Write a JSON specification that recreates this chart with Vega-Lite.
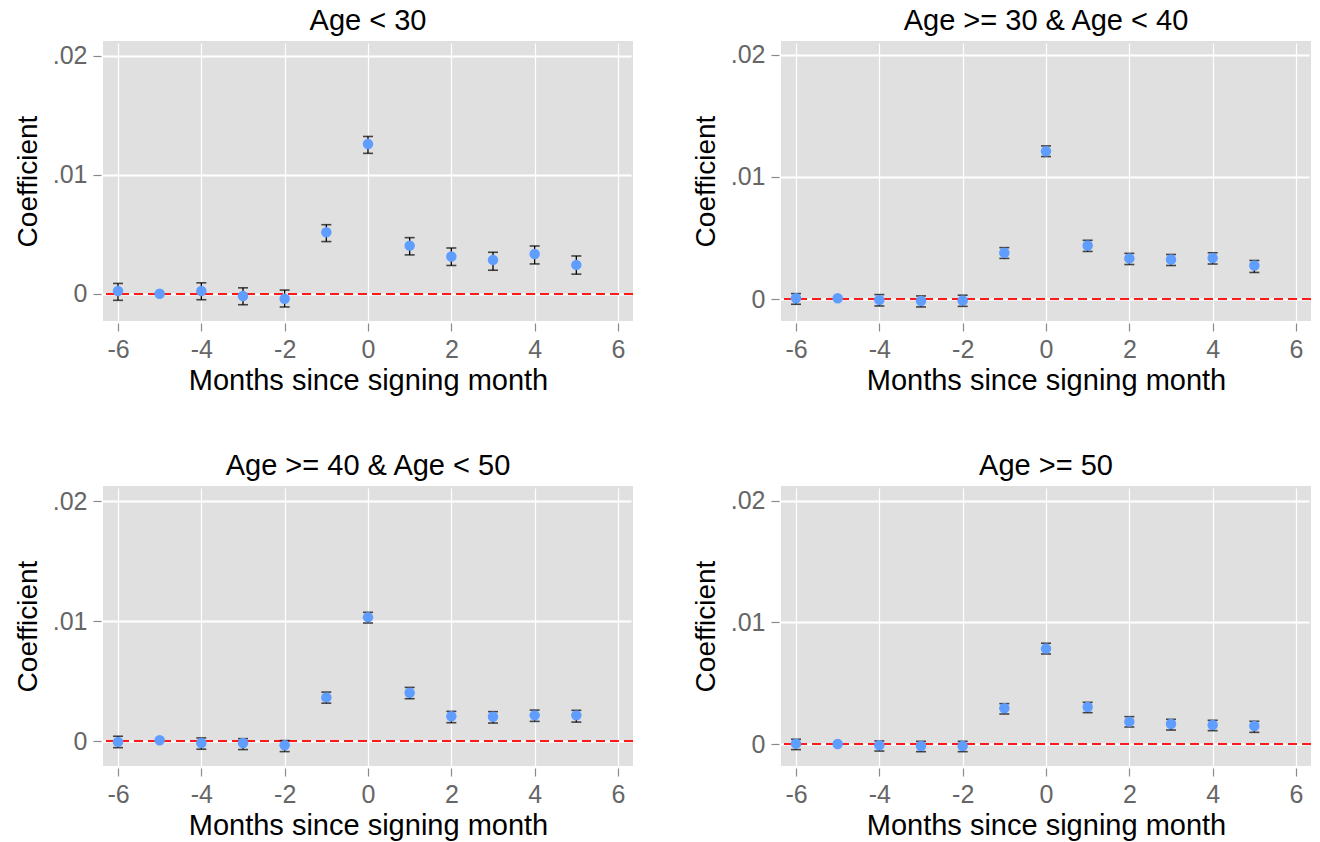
{
  "$schema": "https://vega.github.io/schema/vega-lite/v6.json",
  "padding": {"left": 14, "top": 7, "right": 4, "bottom": 4},
  "background": "white",
  "datasets": {
    "coef": [
      {"g": "Age < 30", "m": -6, "c": 0.00023, "lo": -0.00055, "hi": 0.00087},
      {"g": "Age < 30", "m": -5, "c": 0.0, "lo": null, "hi": null},
      {"g": "Age < 30", "m": -4, "c": 0.00023, "lo": -0.0005, "hi": 0.00092},
      {"g": "Age < 30", "m": -3, "c": -0.00019, "lo": -0.00092, "hi": 0.0005},
      {"g": "Age < 30", "m": -2, "c": -0.00042, "lo": -0.00111, "hi": 0.00031},
      {"g": "Age < 30", "m": -1, "c": 0.00517, "lo": 0.00439, "hi": 0.00581},
      {"g": "Age < 30", "m": 0, "c": 0.0126, "lo": 0.01181, "hi": 0.01323},
      {"g": "Age < 30", "m": 1, "c": 0.00405, "lo": 0.00327, "hi": 0.00472},
      {"g": "Age < 30", "m": 2, "c": 0.00313, "lo": 0.00238, "hi": 0.00385},
      {"g": "Age < 30", "m": 3, "c": 0.00285, "lo": 0.00198, "hi": 0.00349},
      {"g": "Age < 30", "m": 4, "c": 0.00335, "lo": 0.00251, "hi": 0.00402},
      {"g": "Age < 30", "m": 5, "c": 0.00243, "lo": 0.00165, "hi": 0.00318},

      {"g": "Age >= 30 & Age < 40", "m": -6, "c": 0.00008, "lo": -0.00041, "hi": 0.00046},
      {"g": "Age >= 30 & Age < 40", "m": -5, "c": 0.00008, "lo": null, "hi": null},
      {"g": "Age >= 30 & Age < 40", "m": -4, "c": -0.00006, "lo": -0.00055, "hi": 0.00038},
      {"g": "Age >= 30 & Age < 40", "m": -3, "c": -0.00014, "lo": -0.00063, "hi": 0.00027},
      {"g": "Age >= 30 & Age < 40", "m": -2, "c": -0.00011, "lo": -0.00058, "hi": 0.00033},
      {"g": "Age >= 30 & Age < 40", "m": -1, "c": 0.0038, "lo": 0.00334, "hi": 0.00422},
      {"g": "Age >= 30 & Age < 40", "m": 0, "c": 0.0121, "lo": 0.01167, "hi": 0.01254},
      {"g": "Age >= 30 & Age < 40", "m": 1, "c": 0.0044, "lo": 0.00391, "hi": 0.00482},
      {"g": "Age >= 30 & Age < 40", "m": 2, "c": 0.00334, "lo": 0.00284, "hi": 0.00375},
      {"g": "Age >= 30 & Age < 40", "m": 3, "c": 0.00325, "lo": 0.00276, "hi": 0.00366},
      {"g": "Age >= 30 & Age < 40", "m": 4, "c": 0.00337, "lo": 0.00288, "hi": 0.0038},
      {"g": "Age >= 30 & Age < 40", "m": 5, "c": 0.00276, "lo": 0.00219, "hi": 0.00317},

      {"g": "Age >= 40 & Age < 50", "m": -6, "c": -0.00005, "lo": -0.00053, "hi": 0.00042},
      {"g": "Age >= 40 & Age < 50", "m": -5, "c": 0.00008, "lo": null, "hi": null},
      {"g": "Age >= 40 & Age < 50", "m": -4, "c": -0.00014, "lo": -0.00066, "hi": 0.00028},
      {"g": "Age >= 40 & Age < 50", "m": -3, "c": -0.00014, "lo": -0.00069, "hi": 0.00022},
      {"g": "Age >= 40 & Age < 50", "m": -2, "c": -0.00033, "lo": -0.00086, "hi": 0.00006},
      {"g": "Age >= 40 & Age < 50", "m": -1, "c": 0.00366, "lo": 0.00318, "hi": 0.0041},
      {"g": "Age >= 40 & Age < 50", "m": 0, "c": 0.01033, "lo": 0.00986, "hi": 0.01075},
      {"g": "Age >= 40 & Age < 50", "m": 1, "c": 0.00405, "lo": 0.00355, "hi": 0.00449},
      {"g": "Age >= 40 & Age < 50", "m": 2, "c": 0.00208, "lo": 0.00155, "hi": 0.00249},
      {"g": "Age >= 40 & Age < 50", "m": 3, "c": 0.00205, "lo": 0.00152, "hi": 0.00247},
      {"g": "Age >= 40 & Age < 50", "m": 4, "c": 0.00216, "lo": 0.00166, "hi": 0.0026},
      {"g": "Age >= 40 & Age < 50", "m": 5, "c": 0.00216, "lo": 0.0016, "hi": 0.00258},

      {"g": "Age >= 50", "m": -6, "c": 0.00003, "lo": -0.00046, "hi": 0.00039},
      {"g": "Age >= 50", "m": -5, "c": 0.0, "lo": null, "hi": null},
      {"g": "Age >= 50", "m": -4, "c": -0.00011, "lo": -0.00058, "hi": 0.00025},
      {"g": "Age >= 50", "m": -3, "c": -0.00016, "lo": -0.00063, "hi": 0.00022},
      {"g": "Age >= 50", "m": -2, "c": -0.00016, "lo": -0.00063, "hi": 0.00022},
      {"g": "Age >= 50", "m": -1, "c": 0.00294, "lo": 0.00247, "hi": 0.00332},
      {"g": "Age >= 50", "m": 0, "c": 0.00785, "lo": 0.00741, "hi": 0.00829},
      {"g": "Age >= 50", "m": 1, "c": 0.00305, "lo": 0.00258, "hi": 0.00343},
      {"g": "Age >= 50", "m": 2, "c": 0.00184, "lo": 0.0014, "hi": 0.00225},
      {"g": "Age >= 50", "m": 3, "c": 0.00165, "lo": 0.00115, "hi": 0.00203},
      {"g": "Age >= 50", "m": 4, "c": 0.00156, "lo": 0.0011, "hi": 0.00195},
      {"g": "Age >= 50", "m": 5, "c": 0.00148, "lo": 0.00096, "hi": 0.00187}
    ]
  },
  "data": {"name": "coef"},
  "columns": 2,
  "spacing": {"column": 58, "row": 57},
  "concat": [
    {
      "title": "Age < 30",
      "width": 530, "height": 280,
      "transform": [{"filter": "datum.g == 'Age < 30'"}],
      "layer": [
        {"mark": {"type": "rule", "color": "#ff1a1a", "strokeDash": [9, 5], "strokeWidth": 1.6},
         "encoding": {"y": {"datum": 0, "type": "quantitative", "title": "Coefficient", "scale": {"domain": [-0.00229, 0.02126], "nice": false, "zero": false},
                            "axis": {"values": [0, 0.01, 0.02], "labelExpr": "datum.value == 0 ? '0' : replace(format(datum.value, '.2f'), '0.', '.')"}}}},
        {"mark": {"type": "rule", "color": "black", "strokeWidth": 1.3},
         "encoding": {"x": {"field": "m", "type": "quantitative", "title": "Months since signing month", "scale": {"domain": [-6.36, 6.36], "nice": false, "zero": false},
                            "axis": {"values": [-6, -4, -2, 0, 2, 4, 6], "labelExpr": "'' + datum.value"}},
                      "y": {"field": "lo", "type": "quantitative", "title": "Coefficient"}, "y2": {"field": "hi"}}},
        {"mark": {"type": "tick", "orient": "horizontal", "color": "black", "size": 10, "thickness": 1.6},
         "encoding": {"x": {"field": "m", "type": "quantitative", "title": "Months since signing month"}, "y": {"field": "lo", "type": "quantitative", "title": "Coefficient"}}},
        {"mark": {"type": "tick", "orient": "horizontal", "color": "black", "size": 10, "thickness": 1.6},
         "encoding": {"x": {"field": "m", "type": "quantitative", "title": "Months since signing month"}, "y": {"field": "hi", "type": "quantitative", "title": "Coefficient"}}},
        {"mark": {"type": "point", "shape": "circle", "filled": true, "size": 110, "color": "#5f9dff", "opacity": 1},
         "encoding": {"x": {"field": "m", "type": "quantitative", "title": "Months since signing month"}, "y": {"field": "c", "type": "quantitative", "title": "Coefficient"}}}
      ]
    },
    {
      "title": "Age >= 30 & Age < 40",
      "width": 530, "height": 280,
      "transform": [{"filter": "datum.g == 'Age >= 30 & Age < 40'"}],
      "layer": [
        {"mark": {"type": "rule", "color": "#ff1a1a", "strokeDash": [9, 5], "strokeWidth": 1.6},
         "encoding": {"y": {"datum": 0, "type": "quantitative", "title": "Coefficient", "scale": {"domain": [-0.00178, 0.02112], "nice": false, "zero": false},
                            "axis": {"values": [0, 0.01, 0.02], "labelExpr": "datum.value == 0 ? '0' : replace(format(datum.value, '.2f'), '0.', '.')"}}}},
        {"mark": {"type": "rule", "color": "black", "strokeWidth": 1.3},
         "encoding": {"x": {"field": "m", "type": "quantitative", "title": "Months since signing month", "scale": {"domain": [-6.36, 6.36], "nice": false, "zero": false},
                            "axis": {"values": [-6, -4, -2, 0, 2, 4, 6], "labelExpr": "'' + datum.value"}},
                      "y": {"field": "lo", "type": "quantitative", "title": "Coefficient"}, "y2": {"field": "hi"}}},
        {"mark": {"type": "tick", "orient": "horizontal", "color": "black", "size": 10, "thickness": 1.6},
         "encoding": {"x": {"field": "m", "type": "quantitative", "title": "Months since signing month"}, "y": {"field": "lo", "type": "quantitative", "title": "Coefficient"}}},
        {"mark": {"type": "tick", "orient": "horizontal", "color": "black", "size": 10, "thickness": 1.6},
         "encoding": {"x": {"field": "m", "type": "quantitative", "title": "Months since signing month"}, "y": {"field": "hi", "type": "quantitative", "title": "Coefficient"}}},
        {"mark": {"type": "point", "shape": "circle", "filled": true, "size": 110, "color": "#5f9dff", "opacity": 1},
         "encoding": {"x": {"field": "m", "type": "quantitative", "title": "Months since signing month"}, "y": {"field": "c", "type": "quantitative", "title": "Coefficient"}}}
      ]
    },
    {
      "title": "Age >= 40 & Age < 50",
      "width": 530, "height": 280,
      "transform": [{"filter": "datum.g == 'Age >= 40 & Age < 50'"}],
      "layer": [
        {"mark": {"type": "rule", "color": "#ff1a1a", "strokeDash": [9, 5], "strokeWidth": 1.6},
         "encoding": {"y": {"datum": 0, "type": "quantitative", "title": "Coefficient", "scale": {"domain": [-0.00206, 0.02128], "nice": false, "zero": false},
                            "axis": {"values": [0, 0.01, 0.02], "labelExpr": "datum.value == 0 ? '0' : replace(format(datum.value, '.2f'), '0.', '.')"}}}},
        {"mark": {"type": "rule", "color": "black", "strokeWidth": 1.3},
         "encoding": {"x": {"field": "m", "type": "quantitative", "title": "Months since signing month", "scale": {"domain": [-6.36, 6.36], "nice": false, "zero": false},
                            "axis": {"values": [-6, -4, -2, 0, 2, 4, 6], "labelExpr": "'' + datum.value"}},
                      "y": {"field": "lo", "type": "quantitative", "title": "Coefficient"}, "y2": {"field": "hi"}}},
        {"mark": {"type": "tick", "orient": "horizontal", "color": "black", "size": 10, "thickness": 1.6},
         "encoding": {"x": {"field": "m", "type": "quantitative", "title": "Months since signing month"}, "y": {"field": "lo", "type": "quantitative", "title": "Coefficient"}}},
        {"mark": {"type": "tick", "orient": "horizontal", "color": "black", "size": 10, "thickness": 1.6},
         "encoding": {"x": {"field": "m", "type": "quantitative", "title": "Months since signing month"}, "y": {"field": "hi", "type": "quantitative", "title": "Coefficient"}}},
        {"mark": {"type": "point", "shape": "circle", "filled": true, "size": 110, "color": "#5f9dff", "opacity": 1},
         "encoding": {"x": {"field": "m", "type": "quantitative", "title": "Months since signing month"}, "y": {"field": "c", "type": "quantitative", "title": "Coefficient"}}}
      ]
    },
    {
      "title": "Age >= 50",
      "width": 530, "height": 280,
      "transform": [{"filter": "datum.g == 'Age >= 50'"}],
      "layer": [
        {"mark": {"type": "rule", "color": "#ff1a1a", "strokeDash": [9, 5], "strokeWidth": 1.6},
         "encoding": {"y": {"datum": 0, "type": "quantitative", "title": "Coefficient", "scale": {"domain": [-0.00181, 0.02123], "nice": false, "zero": false},
                            "axis": {"values": [0, 0.01, 0.02], "labelExpr": "datum.value == 0 ? '0' : replace(format(datum.value, '.2f'), '0.', '.')"}}}},
        {"mark": {"type": "rule", "color": "black", "strokeWidth": 1.3},
         "encoding": {"x": {"field": "m", "type": "quantitative", "title": "Months since signing month", "scale": {"domain": [-6.36, 6.36], "nice": false, "zero": false},
                            "axis": {"values": [-6, -4, -2, 0, 2, 4, 6], "labelExpr": "'' + datum.value"}},
                      "y": {"field": "lo", "type": "quantitative", "title": "Coefficient"}, "y2": {"field": "hi"}}},
        {"mark": {"type": "tick", "orient": "horizontal", "color": "black", "size": 10, "thickness": 1.6},
         "encoding": {"x": {"field": "m", "type": "quantitative", "title": "Months since signing month"}, "y": {"field": "lo", "type": "quantitative", "title": "Coefficient"}}},
        {"mark": {"type": "tick", "orient": "horizontal", "color": "black", "size": 10, "thickness": 1.6},
         "encoding": {"x": {"field": "m", "type": "quantitative", "title": "Months since signing month"}, "y": {"field": "hi", "type": "quantitative", "title": "Coefficient"}}},
        {"mark": {"type": "point", "shape": "circle", "filled": true, "size": 110, "color": "#5f9dff", "opacity": 1},
         "encoding": {"x": {"field": "m", "type": "quantitative", "title": "Months since signing month"}, "y": {"field": "c", "type": "quantitative", "title": "Coefficient"}}}
      ]
    }
  ],
  "config": {
    "font": "Liberation Sans",
    "view": {"fill": "#e0e0e0", "stroke": null},
    "axis": {
      "domain": false, "grid": true, "gridColor": "#ffffff",
      "tickColor": "#8a8a8a", "tickSize": 8, "tickWidth": 1.2, "offset": 2,
      "labelFont": "Liberation Sans", "labelFontSize": 25, "labelColor": "#666666", "labelPadding": 6,
      "titleFont": "Liberation Sans", "titleFontSize": 28, "titleColor": "#000000", "titleFontWeight": "normal"
    },
    "axisX": {"gridWidth": 1.2, "titlePadding": 4, "labelFlush": false, "titleFontSize": 29},
    "axisY": {"gridWidth": 1.8, "titlePadding": 10},
    "title": {"font": "Liberation Sans", "fontSize": 29, "fontWeight": "normal", "color": "#000000", "offset": 5, "anchor": "middle"}
  }
}
